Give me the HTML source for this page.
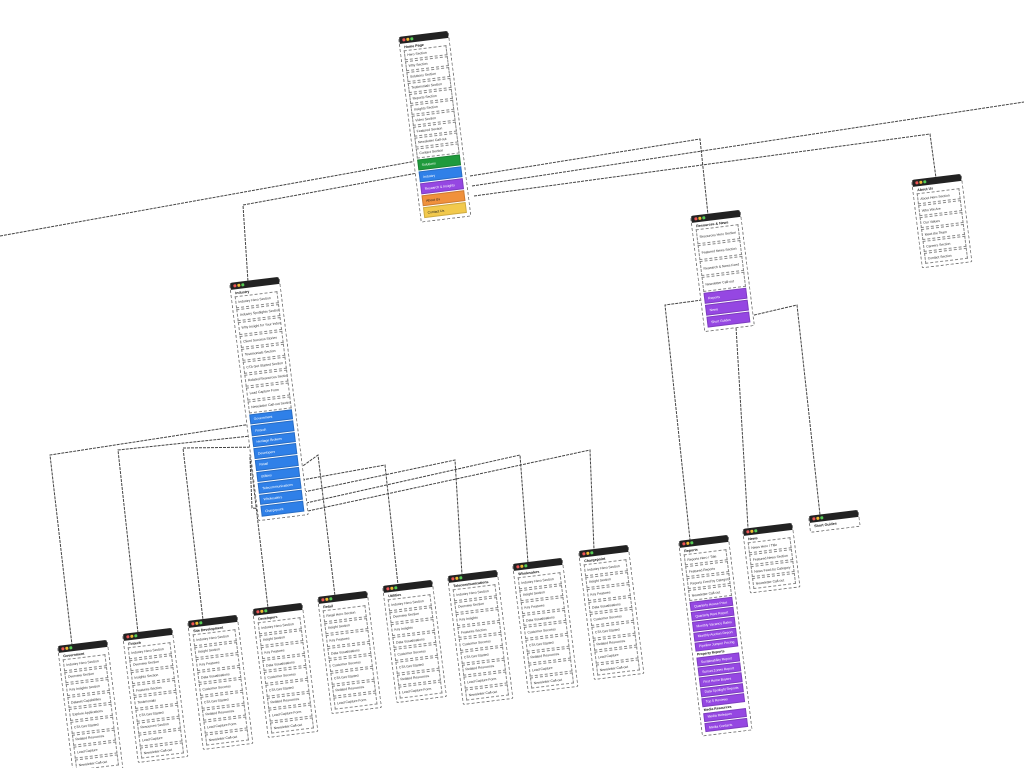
<!DOCTYPE html>
<html><head><meta charset="utf-8"><style>
html,body{margin:0;padding:0;background:#fff;width:1024px;height:768px;overflow:hidden;font-family:"Liberation Sans",sans-serif;position:relative}
.card{position:absolute;width:51px;transform:rotate(-7deg);transform-origin:0 0;background:#fff;border:1px dashed #777;border-top:none;border-radius:2px;box-sizing:border-box;padding:0 3px 2px 3px}
.hd{height:7px;background:#222;margin:0 -3px 2px -3px;border-radius:2px 2px 0 0;position:relative}
.hd i{position:absolute;top:2px;width:2.5px;height:2.5px;border-radius:50%}
.tt{font-size:3.6px;font-weight:bold;color:#111;margin:1px 1px 1px}
.r{border:1px dashed #888;margin:0 0 1px 0;font-size:3.4px;line-height:4px;color:#333;padding:2px 2px;box-sizing:border-box;background:#fff;white-space:nowrap;overflow:hidden}
.c{margin:0 0 1px 0;font-size:3.4px;line-height:4px;color:#fff;padding:2.5px 3px;box-sizing:border-box;border:1px solid rgba(0,0,0,.15);white-space:nowrap;overflow:hidden}
.g{background:#1f9a3c}.b{background:#2f80e8}.p{background:#9547e2}.o{background:#f0913c;color:#222}.y{background:#f2c94c;color:#222}
.lb{font-size:3.4px;font-weight:bold;color:#111;margin:1px 1px}
svg{position:absolute;left:0;top:0}
</style></head><body>
<svg width="1024" height="768" fill="none" stroke="#444" stroke-width="1">
<g stroke-dasharray="3 1">
<line x1="0" y1="236" x2="422" y2="160"/>
<polyline points="423,172 243,205 248,282"/>
<polyline points="470,176 700,139 708,215"/>
<line x1="472" y1="186" x2="1024" y2="102"/>
<polyline points="474,196 930,134 936,178"/>
<polyline points="258,423 50,455 72,645"/>
<polyline points="260,435 118,450 138,633"/>
<polyline points="262,447 183,448 203,620"/>
<polyline points="264,458 250,455 268,608"/>
<polyline points="300,468 318,455 335,596"/>
<polyline points="302,480 385,465 398,585"/>
<polyline points="304,492 455,460 462,575"/>
<polyline points="306,503 520,455 528,563"/>
<polyline points="308,511 590,450 594,550"/>
<polyline points="258,462 250,458 252,508 300,512"/>
<polyline points="702,300 665,305 690,540"/>
<polyline points="745,310 735,310 748,528"/>
<polyline points="750,316 797,305 820,515"/>
</g></svg>
<div id="root"></div>
<script>
var D=[
[398,37,"Home Page",["Hero Section","Why Section","Solutions Section","Testimonials Section","Reports Section","Insights Section","Video Section","Featured Section","Newsletter Call-out","Contact Section"],[["g","Solutions"],["b","Industry"],["p","Research & Insights"],["o","About Us"],["y","Contact Us"]],2,2.5],
[229,283,"Industry",["Industry Hero Section","Industry Spotlights Section","Why Insight for Your Industry","Client Success Stories","Testimonials Section","CTA Get Started Section","Related Resources Section","Lead Capture Form","Newsletter Call-out Section"],[["b","Government"],["b","Fintech"],["b","Heritage Brokers"],["b","Developers"],["b","Retail"],["b","Utilities"],["b","Telecommunications"],["b","Wholesalers"],["b","Chargepoint"]],3.1,2.3],
[690,216,"Resources & News",["Resources Hero Section","Featured News Section","Research & News Feed","Newsletter Call-out"],[["p","Reports"],["p","News"],["p","Short Guides"]],4.5,2.5],
[911,180,"About Us",["About Hero Section","Who We Are","Our Values","Meet the Team","Careers Section","Contact Section"],[],2.5,2.5],
[57,646,"Government",["Industry Hero Section","Overview Section","Key Insights Section","Dataset Capabilities","Explore Applications","CTA Get Started","Related Resources","Lead Capture","Newsletter Call-out"],[],2.8,2.5],
[122,634,"Fintech",["Industry Hero Section","Overview Section","Insights Section","Features Section","Testimonials","CTA Get Started","Resources Section","Lead Capture","Newsletter Call-out"],[],2.8,2.5],
[187,621,"Site Development",["Industry Hero Section","Insight Section","Key Features","Data Visualisations","Customer Success","CTA Get Started","Related Resources","Lead Capture Form","Newsletter Call-out"],[],2.8,2.5],
[252,609,"Developers",["Industry Hero Section","Insight Section","Key Features","Data Visualisations","Customer Success","CTA Get Started","Related Resources","Lead Capture Form","Newsletter Call-out"],[],2.8,2.5],
[317,597,"Retail",["Retail Hero Section","Insight Section","Key Features","Data Visualisations","Customer Success","CTA Get Started","Related Resources","Lead Capture Form"],[],2.8,2.5],
[382,586,"Utilities",["Industry Hero Section","Overview Section","Key Insights","Data Visualisations","Customer Success","CTA Get Started","Related Resources","Lead Capture Form"],[],2.8,2.5],
[447,576,"Telecommunications",["Industry Hero Section","Overview Section","Key Insights","Features Section","Customer Success","CTA Get Started","Related Resources","Lead Capture Form","Newsletter Call-out"],[],2.8,2.5],
[512,564,"Wholesalers",["Industry Hero Section","Insight Section","Key Features","Data Visualisations","Customer Success","CTA Get Started","Related Resources","Lead Capture","Newsletter Call-out"],[],2.8,2.5],
[578,551,"Chargepoint",["Industry Hero Section","Insight Section","Key Features","Data Visualisations","Customer Success","CTA Get Started","Related Resources","Lead Capture","Newsletter Call-out"],[],2.8,2.5],
[678,541,"Reports",["Reports Hero / Title","Featured Reports","Reports Feed by Category","Newsletter Call-out"],[["p","Quarterly House Price"],["p","Quarterly Rent Report"],["p","Monthly Vacancy Rates"],["p","Monthly Auction Report"],["p","Pipeline Jumper Pricing"],["l","Property Reports"],["p","Sustainability Report"],["p","Sunset Zones Report"],["p","First Home Buyers"],["p","Data Spotlight Reports"],["p","Top 5 Reviews"],["l","Media Resources"],["p","Media Releases"],["p","Media Contacts"]],2.5,1.6],
[742,529,"News",["News Hero / Title","Featured News Section","News Feed by Category","Newsletter Call-out"],[],2.5,2.5],
[808,516,"Short Guides",[],[],2,2]
];
var h="";
D.forEach(function(d){
 h+='<div class="card" style="left:'+d[0]+'px;top:'+d[1]+'px"><div class="hd"><i style="left:3px;background:#e55"></i><i style="left:7px;background:#eb3"></i><i style="left:11px;background:#5c5"></i></div><div class="tt">'+d[2]+'</div>';
 d[3].forEach(function(r){h+='<div class="r" style="padding:'+d[5]+'px 2px">'+r+'</div>';});
 d[4].forEach(function(c){ if(c[0]=="l") h+='<div class="lb">'+c[1]+'</div>'; else h+='<div class="c '+c[0]+'" style="padding:'+d[6]+'px 3px">'+c[1]+'</div>';});
 h+='</div>';
});
document.getElementById("root").innerHTML=h;
</script>
</body></html>
